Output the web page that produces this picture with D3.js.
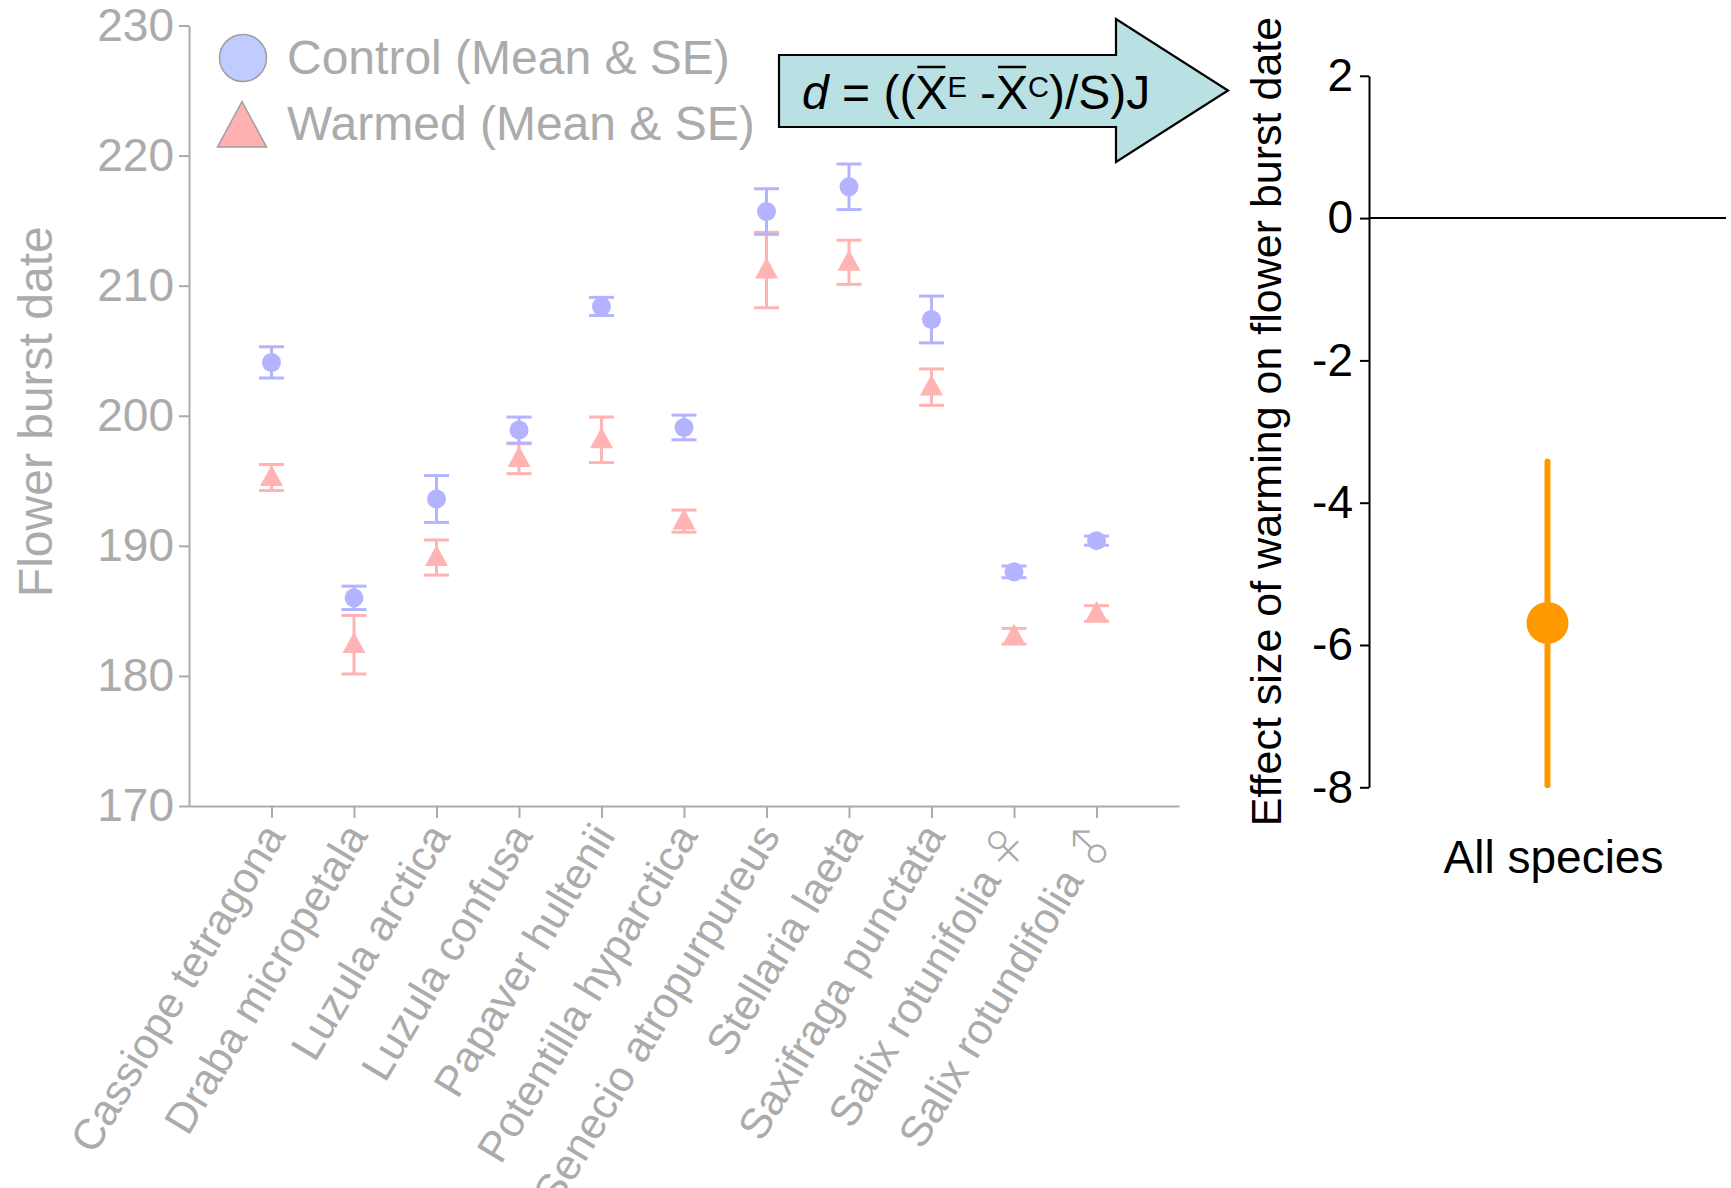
<!DOCTYPE html>
<html>
<head>
<meta charset="utf-8">
<script src="https://cdn.jsdelivr.net/npm/d3@7"></script>
<style>
  html, body { margin: 0; padding: 0; background: #fff; }
  svg { display: block; font-family: "Liberation Sans", Arial, Helvetica, sans-serif; }
</style>
</head>
<body>
<svg id="chart" width="1731" height="1188"></svg>
<script>
// ---------- data ----------
const categories = ["Cassiope tetragona", "Draba micropetala", "Luzula arctica", "Luzula confusa",
  "Papaver hultenii", "Potentilla hyparctica", "Senecio atropurpureus", "Stellaria laeta",
  "Saxifraga punctata", "Salix rotunifolia", "Salix rotundifolia"];
const sexSymbols = ["", "", "", "", "", "", "", "", "", "\u2640", "\u2642"];
const controlMean = [204.1, 186.0, 193.6, 198.9, 208.4, 199.1, 215.7, 217.6, 207.4, 188.0, 190.4];
const controlSE   = [1.2, 0.9, 1.8, 1.0, 0.7, 0.95, 1.75, 1.75, 1.8, 0.45, 0.35];
const warmedMean  = [195.25, 182.4, 189.1, 196.7, 198.15, 191.9, 211.2, 211.8, 202.2, 183.05, 184.8];
const warmedSE    = [1.0, 2.25, 1.35, 1.15, 1.75, 0.85, 2.9, 1.7, 1.4, 0.6, 0.6];
const leftTicks   = [170, 180, 190, 200, 210, 220, 230];
const legendLabels = ["Control (Mean & SE)", "Warmed (Mean & SE)"];

const effectLabels = ["All species"];
const effectMean   = [-5.69];
const effectLower  = [-7.97];
const effectUpper  = [-3.42];
const rightTicks   = [2, 0, -2, -4, -6, -8];

// ---------- styles ----------
const GREY = "#ababab";
const BLUE = "#b3b3ff";
const PINK = "#ffb3b3";
const ORANGE = "#ff9900";

const svg = d3.select("#chart");

// ---------- left panel ----------
const yL = d3.scaleLinear().domain([170, 230]).range([806, 25.5]);
const xL = d3.scalePoint().domain(categories).range([189, 1179]).padding(1);

const gYL = svg.append("g").attr("transform", "translate(189,0)")
  .call(d3.axisLeft(yL).tickValues(leftTicks).tickSize(10).tickSizeOuter(0).tickPadding(5));
gYL.select(".domain").attr("stroke", GREY).attr("stroke-width", 2);
gYL.selectAll(".tick line").attr("stroke", GREY).attr("stroke-width", 2);
gYL.selectAll(".tick text").attr("fill", GREY).attr("font-size", 46)
  .attr("font-family", "'Liberation Sans', Arial, sans-serif");

const gXL = svg.append("g").attr("transform", "translate(0,806)")
  .call(d3.axisBottom(xL).tickSize(12).tickSizeOuter(0).tickFormat(""));
gXL.select(".domain").attr("stroke", GREY).attr("stroke-width", 2);
gXL.selectAll(".tick line").attr("stroke", GREY).attr("stroke-width", 2);

// category labels
svg.append("g").selectAll("text").data(categories).join("text")
  .attr("transform", d => `translate(${xL(d) + 2},828) rotate(-59)`)
  .attr("text-anchor", "end")
  .attr("dx", (d, i) => sexSymbols[i] ? -52 : 0)
  .attr("dy", "0.35em")
  .attr("font-size", 43)
  .attr("fill", GREY)
  .text(d => d);

// sex symbols near the tick
svg.append("g").selectAll("text").data(categories.filter((d, i) => sexSymbols[i])).join("text")
  .attr("transform", d => {
    const s = sexSymbols[categories.indexOf(d)];
    return s === "\u2640"
      ? `translate(${xL(d) - 9},848) rotate(-45)`
      : `translate(${xL(d) - 6},846) rotate(-90)`;
  })
  .attr("text-anchor", "middle")
  .attr("dy", "0.36em")
  .attr("font-family", "'Noto Sans CJK JP', 'DejaVu Sans', sans-serif")
  .attr("font-weight", 300)
  .attr("font-size", 44)
  .attr("fill", GREY)
  .text(d => sexSymbols[categories.indexOf(d)]);

// y title
svg.append("text")
  .attr("transform", `translate(52,${(yL(170) + yL(230)) / 2 - 4}) rotate(-90)`)
  .attr("text-anchor", "middle")
  .attr("font-size", 48)
  .attr("fill", GREY)
  .text("Flower burst date");

// error bars helper
function errorBars(g, means, ses, color) {
  const capW = 12.5;
  const sel = g.selectAll("g").data(categories).join("g");
  sel.append("line")
    .attr("x1", d => xL(d)).attr("x2", d => xL(d))
    .attr("y1", (d, i) => yL(means[i] - ses[i])).attr("y2", (d, i) => yL(means[i] + ses[i]))
    .attr("stroke", color).attr("stroke-width", 3);
  sel.append("line")
    .attr("x1", d => xL(d) - capW).attr("x2", d => xL(d) + capW)
    .attr("y1", (d, i) => yL(means[i] + ses[i])).attr("y2", (d, i) => yL(means[i] + ses[i]))
    .attr("stroke", color).attr("stroke-width", 3);
  sel.append("line")
    .attr("x1", d => xL(d) - capW).attr("x2", d => xL(d) + capW)
    .attr("y1", (d, i) => yL(means[i] - ses[i])).attr("y2", (d, i) => yL(means[i] - ses[i]))
    .attr("stroke", color).attr("stroke-width", 3);
}

const gW = svg.append("g");
errorBars(gW, warmedMean, warmedSE, PINK);
const triPath = (cx, cy, w, h) => `M${cx},${cy - h * 0.6}L${cx + w / 2},${cy + h * 0.4}L${cx - w / 2},${cy + h * 0.4}Z`;
svg.append("g").selectAll("path").data(categories).join("path")
  .attr("d", (d, i) => triPath(xL(d), yL(warmedMean[i]), 23, 21))
  .attr("fill", PINK);

const gC = svg.append("g");
errorBars(gC, controlMean, controlSE, BLUE);
svg.append("g").selectAll("circle").data(categories).join("circle")
  .attr("cx", d => xL(d)).attr("cy", (d, i) => yL(controlMean[i]))
  .attr("r", 9.5).attr("fill", BLUE);

// legend
const leg = svg.append("g");
leg.append("circle").attr("cx", 243).attr("cy", 58).attr("r", 23.5)
  .attr("fill", "#c0ccff").attr("stroke", "#9e9e9e").attr("stroke-width", 1.5);
leg.append("path").attr("d", `M242,101.5L266.5,147L217.5,147Z`)
  .attr("fill", "#ffb0b0").attr("stroke", "#9e9e9e").attr("stroke-width", 1.5);
leg.selectAll("text").data(legendLabels).join("text")
  .attr("x", 287).attr("y", (d, i) => 74 + i * 66)
  .attr("font-size", 48).attr("fill", GREY).text(d => d);

// ---------- arrow with formula ----------
svg.append("path")
  .attr("d", "M779,55L1116,55L1116,19L1228,90.5L1116,162L1116,127L779,127Z")
  .attr("fill", "#b9e0e2").attr("stroke", "#000").attr("stroke-width", 2.2);

const ft = svg.append("text").attr("x", 802).attr("y", 109).attr("font-size", 48).attr("fill", "#000");
ft.append("tspan").attr("font-style", "italic").text("d");
ft.append("tspan").text(" = ((X");
ft.append("tspan").attr("font-size", 29).attr("dy", -12).text("E");
ft.append("tspan").attr("dy", 12).text(" -X");
ft.append("tspan").attr("font-size", 29).attr("dy", -12).text("C");
ft.append("tspan").attr("dy", 12).text(")/S)J");
const ftn = ft.node();
[6, 10].forEach(ci => {
  const ext = ftn.getExtentOfChar(ci);
  svg.append("line")
    .attr("x1", ext.x + 2).attr("x2", ext.x + ext.width - 2)
    .attr("y1", 67).attr("y2", 67)
    .attr("stroke", "#000").attr("stroke-width", 2.5);
});

// ---------- right panel ----------
const yR = d3.scaleLinear().domain([-8, 2]).range([787.3, 75.8]);
const xR = d3.scalePoint().domain(effectLabels).range([1369, 1726]).padding(0.5);

const gYR = svg.append("g").attr("transform", "translate(1369,0)")
  .call(d3.axisLeft(yR).tickValues(rightTicks).tickSize(9).tickSizeOuter(0).tickPadding(7)
    .tickFormat(d => d));
gYR.select(".domain").attr("stroke", "#000").attr("stroke-width", 2);
gYR.selectAll(".tick line").attr("stroke", "#000").attr("stroke-width", 2);
gYR.selectAll(".tick text").attr("fill", "#000").attr("font-size", 46)
  .attr("font-family", "'Liberation Sans', Arial, sans-serif");

// zero line
svg.append("line")
  .attr("x1", xR.range()[0]).attr("x2", xR.range()[1])
  .attr("y1", yR(0)).attr("y2", yR(0))
  .attr("stroke", "#000").attr("stroke-width", 2);

// effect size
const ge = svg.append("g").selectAll("g").data(effectLabels).join("g");
ge.append("line")
  .attr("x1", d => xR(d)).attr("x2", d => xR(d))
  .attr("y1", (d, i) => yR(effectLower[i])).attr("y2", (d, i) => yR(effectUpper[i]))
  .attr("stroke", ORANGE).attr("stroke-width", 6).attr("stroke-linecap", "round");
ge.append("circle")
  .attr("cx", d => xR(d)).attr("cy", (d, i) => yR(effectMean[i]))
  .attr("r", 21).attr("fill", ORANGE);
ge.append("text")
  .attr("x", d => xR(d) + 6).attr("y", 873)
  .attr("text-anchor", "middle").attr("font-size", 46).attr("fill", "#000")
  .text(d => d);

svg.append("text")
  .attr("transform", `translate(1281,${(yR(-8) + yR(2)) / 2 - 10}) rotate(-90)`)
  .attr("text-anchor", "middle")
  .attr("font-size", 43)
  .attr("fill", "#000")
  .text("Effect size of warming on flower burst date");
</script>
</body>
</html>
